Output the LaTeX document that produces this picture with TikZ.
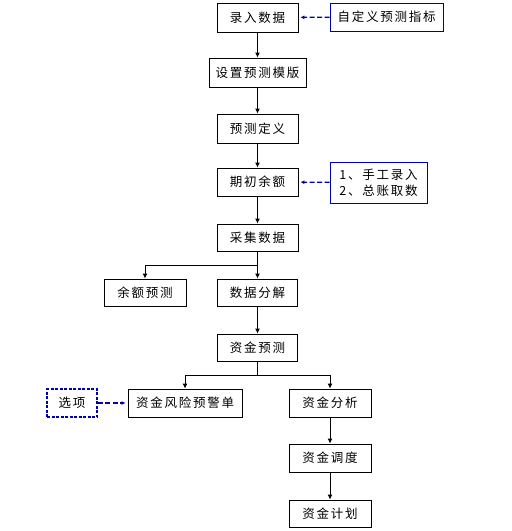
\documentclass[tikz,border=0pt]{standalone}
\usepackage{fontspec}
\setmainfont[LetterSpace=14]{Noto Sans CJK SC}
\usetikzlibrary{arrows.meta}
\definecolor{navy}{RGB}{0,0,170}
\begin{document}
\begin{tikzpicture}[x=1pt,y=-1pt,
  box/.style={draw=black,line width=0.9pt,rectangle,inner sep=0pt,font=\fontsize{12.5}{16}\selectfont,fill=white},
  bluebox/.style={box,draw=navy},
  dashbox/.style={box,draw=navy,dash pattern=on 3pt off 1.5pt,line width=1.5pt},
  arr/.style={line width=0.9pt,-{Latex[length=5pt,width=5pt]}},
  barr/.style={line width=1.2pt,draw=navy,dash pattern=on 5pt off 2.5pt,-{Latex[length=4pt,width=4pt]},shorten >=2pt}]
\useasboundingbox[fill=white] (0,0) rectangle (512,531);
\node[box,minimum width=81,minimum height=29] (a) at (257.5,17.5) {录入数据};
\node[bluebox,minimum width=113,minimum height=28] (cust) at (386.5,17) {自定义预测指标};
\node[box,minimum width=97,minimum height=29] (b) at (257.5,72.5) {设置预测模版};
\node[box,minimum width=81,minimum height=29] (c) at (257.5,128.5) {预测定义};
\node[box,minimum width=81,minimum height=28] (d) at (257.5,182) {期初余额};
\node[bluebox,minimum width=97,minimum height=41,align=left] (src) at (378.5,182.5) {1、手工录入\\2、总账取数};
\node[box,minimum width=81,minimum height=27] (e) at (257.5,237.5) {采集数据};
\node[box,minimum width=82,minimum height=27] (f) at (145,292.5) {余额预测};
\node[box,minimum width=80,minimum height=27] (g) at (257.5,292.5) {数据分解};
\node[box,minimum width=80,minimum height=27] (h) at (257.5,347.5) {资金预测};
\node[box,minimum width=114,minimum height=28] (i) at (185,403) {资金风险预警单};
\node[box,minimum width=82,minimum height=28] (j) at (330,403) {资金分析};
\node[box,minimum width=82,minimum height=28] (k) at (330,458) {资金调度};
\node[box,minimum width=82,minimum height=27] (l) at (330,513.5) {资金计划};
\node[dashbox,minimum width=50,minimum height=28] (sel) at (72,403) {选项};
\coordinate (s1) at (257.5,265);
\coordinate (s2) at (257.5,375);
\draw[arr] (a) -- (b);
\draw[arr] (b) -- (c);
\draw[arr] (c) -- (d);
\draw[arr] (d) -- (e);
\draw[arr] (e) -- (g);
\draw[arr] (s1) -| (f);
\draw[arr] (g) -- (h);
\draw[line width=0.9pt] (h) -- (s2);
\draw[arr] (s2) -| (i);
\draw[arr] (s2) -| (j);
\draw[arr] (j) -- (k);
\draw[arr] (k) -- (l);
\draw[barr] (cust) -- (a);
\draw[barr] (src) -- (d);
\draw[barr] (sel) -- (i);
\end{tikzpicture}
\end{document}
